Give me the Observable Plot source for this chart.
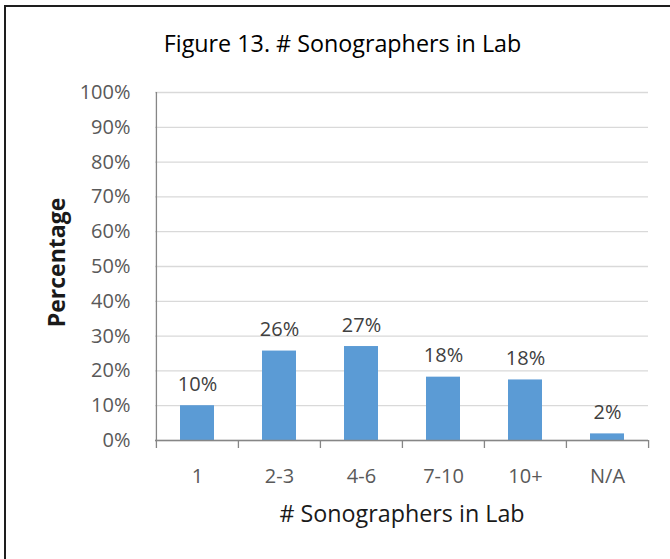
<!DOCTYPE html>
<html><head><meta charset="utf-8">
<script src="https://cdn.jsdelivr.net/npm/d3@7"></script>
<script src="https://cdn.jsdelivr.net/npm/@observablehq/plot@0.6"></script>
<style>
body{margin:0;background:#fff;}
#wrap{position:relative;width:670px;height:559px;overflow:hidden;background:#fff;}
#frame{position:absolute;left:4px;top:5px;width:700px;height:600px;border-left:2px solid #1e1e1e;border-top:2px solid #1e1e1e;}
#chart{position:absolute;left:0;top:0;}
</style></head><body>
<div id="wrap"><div id="frame"></div><div id="chart"></div></div>
<script>
const categories = ["1", "2-3", "4-6", "7-10", "10+", "N/A"];
const values = [10.0, 25.7, 27.0, 18.2, 17.4, 1.9];
const valueLabels = ["10%", "26%", "27%", "18%", "18%", "2%"];
const yTicks = [0, 10, 20, 30, 40, 50, 60, 70, 80, 90, 100];
const titleText = "Figure 13. # Sonographers in Lab";
const xTitle = "# Sonographers in Lab";
const yTitle = "Percentage";

const W = 670, H = 559, mL = 155, mR = 22, mT = 92, mB = 119;
const step = (W - mL - mR) / categories.length;
const data = categories.map((c, i) => ({category: c, value: values[i], label: valueLabels[i]}));
const font = "'Open Sans', 'Noto Sans', sans-serif";
const last = categories[categories.length - 1];

const chart = Plot.plot({
  width: W, height: H,
  marginLeft: mL, marginRight: mR, marginTop: mT, marginBottom: mB,
  style: {fontFamily: font, background: "transparent", overflow: "visible"},
  x: {domain: categories, paddingInner: 0.59, paddingOuter: 0.295, label: null},
  y: {domain: [0, 100], label: null},
  marks: [
    Plot.gridY(yTicks, {stroke: "#d9d9d9", strokeOpacity: 1, strokeWidth: 1.3}),
    Plot.barY(data, {x: "category", y: "value", fill: "#5b9bd5"}),
    Plot.ruleY([0], {stroke: "#868686", strokeWidth: 1.3}),
    Plot.ruleX([categories[0]], {dx: -step / 2, y1: 100, y2: 0, insetBottom: -8, stroke: "#868686", strokeWidth: 1.3}),
    Plot.ruleX(categories.slice(1), {dx: -step / 2, y1: 0, y2: 0, insetBottom: -8, stroke: "#868686", strokeWidth: 1.3}),
    Plot.ruleX([last], {dx: step / 2, y1: 0, y2: 0, insetBottom: -8, stroke: "#868686", strokeWidth: 1.3}),
    Plot.axisY(yTicks, {tickSize: 0, tickPadding: 25, tickFormat: d => d + "%", fontSize: 20, color: "#595959", label: null}),
    Plot.axisX({tickSize: 0, tickPadding: 28, fontSize: 20, color: "#595959", label: null}),
    Plot.text(data, {x: "category", y: "value", text: "label", lineAnchor: "bottom", dy: -15, fontSize: 20, fill: "#404040"}),
    Plot.text([yTitle], {text: d => d, frameAnchor: "left", textAnchor: "middle", lineAnchor: "middle", dx: -98, dy: -4, rotate: -90, fontWeight: "bold", fontSize: 23, fill: "#1a1a1a"}),
    Plot.text([xTitle], {text: d => d, frameAnchor: "bottom", textAnchor: "middle", lineAnchor: "middle", dy: 74, fontSize: 23.3, fill: "#1a1a1a"}),
    Plot.text([titleText], {text: d => d, frameAnchor: "top", textAnchor: "middle", lineAnchor: "middle", dx: -59.5, dy: -48, fontSize: 23.3, fill: "#000"})
  ]
});
document.getElementById("chart").appendChild(chart);
</script>
</body></html>
